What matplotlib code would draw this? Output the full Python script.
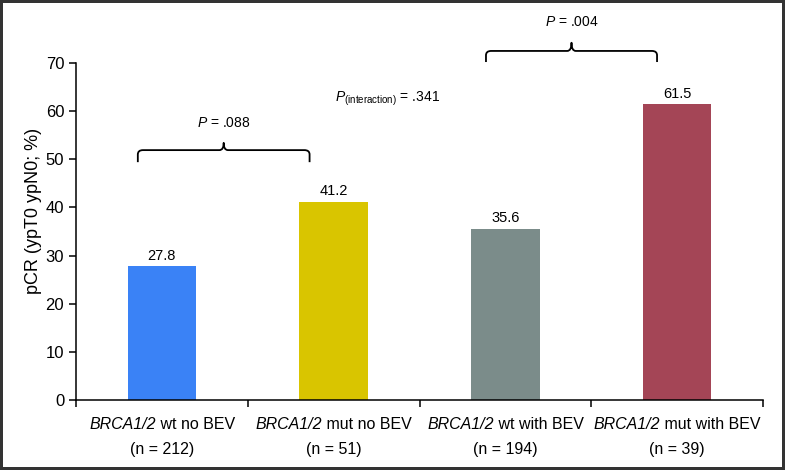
import matplotlib
matplotlib.use("Agg")
import matplotlib.pyplot as plt
from matplotlib.path import Path
from matplotlib.patches import PathPatch
from matplotlib.offsetbox import TextArea, HPacker, AnnotationBbox
from matplotlib.transforms import ScaledTranslation

plt.rcParams['font.family'] = ['Liberation Sans', 'DejaVu Sans']
plt.rcParams['mathtext.fontset'] = 'custom'
plt.rcParams['mathtext.rm'] = 'Liberation Sans'
plt.rcParams['mathtext.it'] = 'Liberation Sans:italic'

gene = 'BRCA1/2'
groups = ['wt no BEV', 'mut no BEV', 'wt with BEV', 'mut with BEV']
n_pts = [212, 51, 194, 39]
pcr = [27.8, 41.2, 35.6, 61.5]
colors = ['#3a82f6', '#d9c500', '#7b8c8a', '#a44556']
yticks = [0, 10, 20, 30, 40, 50, 60, 70]

# brackets: (x left, x right, leg bottom, bar level, peak, text y, label)
brackets = [(-0.14, 0.86, 49.4, 51.9, 53.4, 57.5, '$\\mathit{P}$ = .088'),
            (1.887, 2.883, 70.2, 72.5, 74.2, 78.5, '$\\mathit{P}$ = .004')]
p_inter = '.341'


def brace(ax, x0, x1, yb, yh, yp, rx=0.03, ry=0.9, mx=0.025):
    xm = (x0 + x1) / 2
    verts = [(x0, yb), (x0, yh - ry), (x0, yh), (x0 + rx, yh),
             (xm - mx, yh), (xm, yh), (xm, yp),
             (xm, yh), (xm + mx, yh),
             (x1 - rx, yh), (x1, yh), (x1, yh - ry), (x1, yb)]
    codes = [Path.MOVETO, Path.LINETO, Path.CURVE3, Path.CURVE3,
             Path.LINETO, Path.CURVE3, Path.CURVE3,
             Path.CURVE3, Path.CURVE3,
             Path.LINETO, Path.CURVE3, Path.CURVE3, Path.LINETO]
    p = PathPatch(Path(verts, codes), fill=False, lw=1.3, ec='black',
                  clip_on=False, capstyle='butt', joinstyle='round')
    ax.add_patch(p)


fig = plt.figure(figsize=(7.85, 4.70), dpi=100, edgecolor='#333333',
                 linewidth=3)
ax = fig.add_axes([0.0968, 0.149, 0.8752, 0.717])

x = list(range(len(pcr)))
ax.bar(x, pcr, width=0.4, color=colors, zorder=2)
for xi, v in zip(x, pcr):
    ax.text(xi, v + 0.7, f'{v:.1f}', ha='center', va='bottom', fontsize=10.5)

ax.set_xlim(-0.5, 3.5)
ax.set_ylim(0, 70)
ax.set_yticks(yticks)
ax.tick_params(axis='y', labelsize=12, length=5, width=1.1, direction='out')
ax.set_xticks(x)
ax.set_xticklabels([])
ax.tick_params(axis='x', which='major', length=0)
ax.set_xticks([-0.5, 0.5, 1.5, 2.5, 3.5], minor=True)
ax.tick_params(axis='x', which='minor', length=5, width=1.1, direction='out')
for s in ['top', 'right']:
    ax.spines[s].set_visible(False)
for s in ['left', 'bottom']:
    ax.spines[s].set_linewidth(1.1)
ax.set_ylabel('pCR (ypT0 ypN0; %)', fontsize=13)
ax.yaxis.set_label_coords(-0.05, 0.56)

# category labels: italic gene name + plain text, then n on a second line
tr = ax.get_xaxis_transform()
for xi, g, n in zip(x, groups, n_pts):
    box = HPacker(children=[TextArea(gene, textprops=dict(fontsize=11.5, style='italic')),
                            TextArea(' ' + g, textprops=dict(fontsize=11.5))],
                  pad=0, sep=0, align='baseline')
    ab = AnnotationBbox(box, (xi, 0), xycoords=tr, xybox=(0, -25),
                        boxcoords='offset pixels', frameon=False,
                        box_alignment=(0.5, 0.5), pad=0, annotation_clip=False)
    ax.add_artist(ab)
    ax.text(xi, 0, f'(n = {n})', ha='center', va='center', fontsize=11.5,
            transform=tr + ScaledTranslation(0, -0.50, fig.dpi_scale_trans))

for x0, x1, yb, yh, yp, yt, lab in brackets:
    brace(ax, x0, x1, yb, yh, yp)
    ax.text((x0 + x1) / 2, yt, lab, ha='center', va='center', fontsize=10,
            clip_on=False)

ax.text(1.008, 62.5, '$\\mathit{P}_{\\rm (interaction)}$ = ' + p_inter,
        ha='left', va='center', fontsize=10)

fig.savefig('out.png', dpi=100, edgecolor=fig.get_edgecolor())
